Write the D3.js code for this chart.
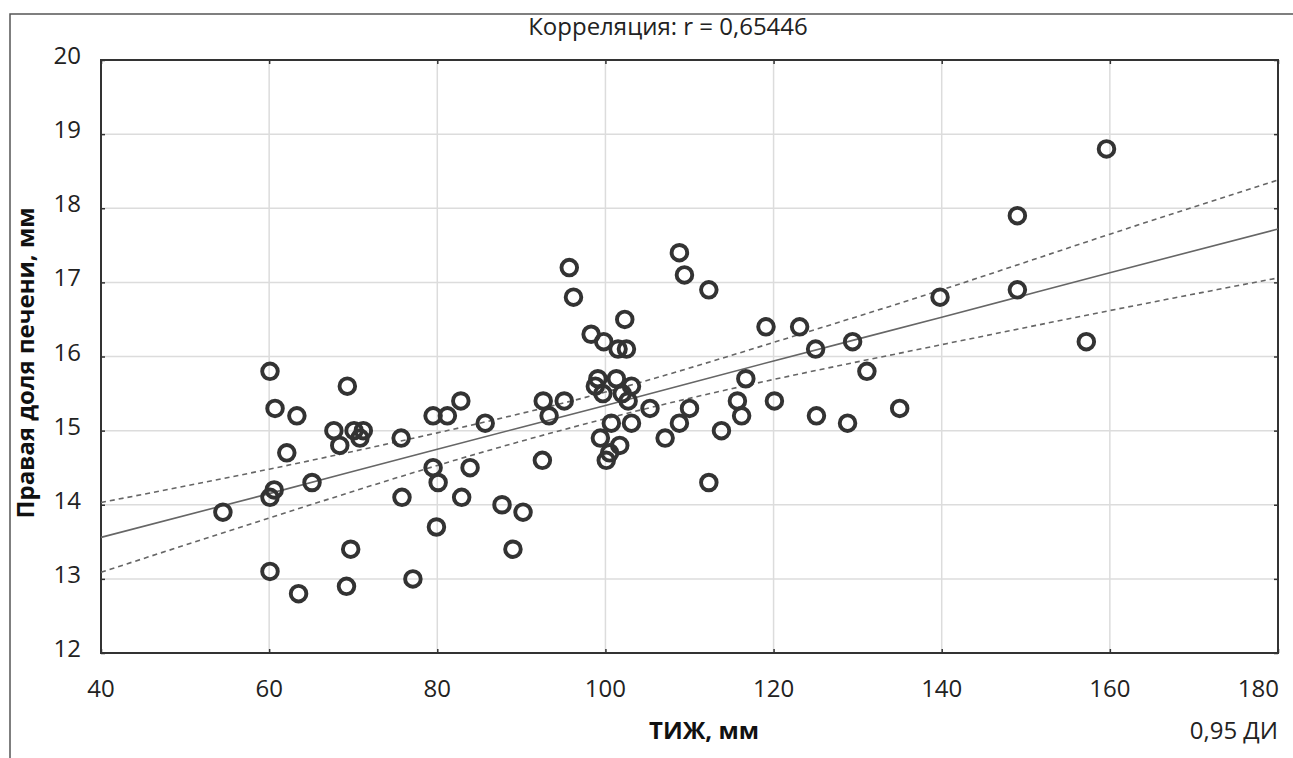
<!DOCTYPE html>
<html>
<head>
<meta charset="utf-8">
<script src="https://cdn.jsdelivr.net/npm/d3@7/dist/d3.min.js"></script>
<style>
  html, body { margin: 0; padding: 0; background: #fff; }
  svg { display: block; font-family: "Open Sans", "Noto Sans", sans-serif; }
</style>
</head>
<body>
<svg id="chart" width="1293" height="758"></svg>
<script>
// ---- Data ----
const tizh = [
  54.5, 60.1, 60.7, 63.3, 62.1, 60.6, 60.1, 65.1, 60.1, 63.5,
  69.3, 67.7, 68.4, 70.1, 71.2, 70.8, 69.2, 69.7, 75.7, 75.8,
  77.1, 79.5, 81.2, 82.8, 85.7, 79.5, 80.1, 83.9, 82.9, 79.9,
  87.7, 90.2, 89.0, 92.6, 95.1, 93.3, 92.5, 95.7, 96.2, 98.3,
  99.8, 101.5, 102.5, 102.3, 99.1, 101.3, 103.1, 98.8, 99.7, 102.0,
  102.7, 105.3, 100.7, 103.1, 99.4, 101.7, 100.5, 100.1, 107.1, 108.8,
  110.0, 108.8, 109.4, 112.3, 113.8, 112.3, 116.7, 115.7, 116.2, 119.1,
  123.1, 125.0, 129.4, 131.1, 120.1, 125.1, 128.8, 135.0, 139.8, 149.0,
  149.0, 157.2, 159.6
];
const liver = [
  13.9, 15.8, 15.3, 15.2, 14.7, 14.2, 14.1, 14.3, 13.1, 12.8,
  15.6, 15.0, 14.8, 15.0, 15.0, 14.9, 12.9, 13.4, 14.9, 14.1,
  13.0, 15.2, 15.2, 15.4, 15.1, 14.5, 14.3, 14.5, 14.1, 13.7,
  14.0, 13.9, 13.4, 15.4, 15.4, 15.2, 14.6, 17.2, 16.8, 16.3,
  16.2, 16.1, 16.1, 16.5, 15.7, 15.7, 15.6, 15.6, 15.5, 15.5,
  15.4, 15.3, 15.1, 15.1, 14.9, 14.8, 14.7, 14.6, 14.9, 15.1,
  15.3, 17.4, 17.1, 16.9, 15.0, 14.3, 15.7, 15.4, 15.2, 16.4,
  16.4, 16.1, 16.2, 15.8, 15.4, 15.2, 15.1, 15.3, 16.8, 17.9,
  16.9, 16.2, 18.8
];

// regression line and 0.95 confidence band
const fitX    = [40, 60, 80, 100, 120, 140, 160, 180];
const fitY    = [13.56, 14.15, 14.75, 15.34, 15.94, 16.53, 17.13, 17.72];
const ciUpper = [14.03, 14.48, 14.97, 15.52, 16.19, 16.90, 17.65, 18.38];
const ciLower = [13.09, 13.82, 14.53, 15.16, 15.69, 16.16, 16.62, 17.06];

const xTicks = [40, 60, 80, 100, 120, 140, 160, 180];
const yTicks = [12, 13, 14, 15, 16, 17, 18, 19, 20];

const titleText = "Корреляция: r = 0,65446";
const xTitle = "ТИЖ, мм";
const yTitle = "Правая доля печени, мм";
const ciLabel = "0,95 ДИ";

// ---- Layout ----
const svg = d3.select("#chart");
const pL = 101, pT = 60, pR = 1278, pB = 653;

const x = d3.scaleLinear().domain([40, 180]).range([pL, pR]);
const y = d3.scaleLinear().domain([12, 20]).range([pB, pT]);

// outer frame (top and left lines)
svg.append("path")
  .attr("d", `M10,758 L10,14 L1293,14`)
  .attr("fill", "none").attr("stroke", "#555").attr("stroke-width", 1.5);

// grid
const grid = svg.append("g");
grid.selectAll("line.gx").data(xTicks.slice(1, -1)).join("line")
  .attr("x1", d => x(d)).attr("x2", d => x(d))
  .attr("y1", pT).attr("y2", pB)
  .attr("stroke", "#dcdcdc").attr("stroke-width", 1.5);
grid.selectAll("line.gy").data(yTicks.slice(1, -1)).join("line")
  .attr("y1", d => y(d)).attr("y2", d => y(d))
  .attr("x1", pL).attr("x2", pR)
  .attr("stroke", "#dcdcdc").attr("stroke-width", 1.5);

// axes with inward ticks
const axStyle = g => {
  g.select(".domain").remove();
  g.selectAll(".tick line").attr("stroke", "#333").attr("stroke-width", 1.5);
  g.selectAll("text").remove();
};
svg.append("g").attr("transform", `translate(0,${pB})`)
  .call(d3.axisTop(x).tickValues(xTicks).tickSize(4)).call(axStyle);
svg.append("g").attr("transform", `translate(0,${pT})`)
  .call(d3.axisBottom(x).tickValues(xTicks).tickSize(4)).call(axStyle);
svg.append("g").attr("transform", `translate(${pL},0)`)
  .call(d3.axisRight(y).tickValues(yTicks).tickSize(4)).call(axStyle);
svg.append("g").attr("transform", `translate(${pR},0)`)
  .call(d3.axisLeft(y).tickValues(yTicks).tickSize(4)).call(axStyle);

// plot box
svg.append("rect")
  .attr("x", pL).attr("y", pT)
  .attr("width", pR - pL).attr("height", pB - pT)
  .attr("fill", "none").attr("stroke", "#333").attr("stroke-width", 2);

// tick labels
svg.append("g").selectAll("text").data(xTicks).join("text")
  .attr("x", (d, i) => i === xTicks.length - 1 ? pR + 1 : x(d)).attr("y", 697)
  .attr("text-anchor", (d, i) => i === xTicks.length - 1 ? "end" : "middle")
  .attr("font-size", 24).attr("fill", "#222")
  .text(d => d);
svg.append("g").selectAll("text").data(yTicks).join("text")
  .attr("x", 81).attr("y", d => y(d) + 4)
  .attr("text-anchor", "end")
  .attr("font-size", 24).attr("fill", "#222")
  .text(d => d);

// regression line and confidence band
const line = d3.line().x(d => x(d[0])).y(d => y(d[1])).curve(d3.curveNatural);
svg.append("path")
  .attr("d", line(fitX.map((v, i) => [v, fitY[i]])))
  .attr("fill", "none").attr("stroke", "#666").attr("stroke-width", 1.6);
[ciUpper, ciLower].forEach(arr => {
  svg.append("path")
    .attr("d", line(fitX.map((v, i) => [v, arr[i]])))
    .attr("fill", "none").attr("stroke", "#666").attr("stroke-width", 1.6)
    .attr("stroke-dasharray", "5,4");
});

// points
svg.append("g").selectAll("circle").data(tizh.map((v, i) => [v, liver[i]])).join("circle")
  .attr("cx", d => x(d[0])).attr("cy", d => y(d[1]))
  .attr("r", 7.8)
  .attr("fill", "none").attr("stroke", "#333").attr("stroke-width", 3.9);

// titles
svg.append("text")
  .attr("x", 668).attr("y", 35)
  .attr("text-anchor", "middle")
  .attr("font-size", 24).attr("fill", "#222")
  .text(titleText);
svg.append("text")
  .attr("x", 704).attr("y", 739)
  .attr("text-anchor", "middle")
  .attr("font-size", 24).attr("font-weight", "bold").attr("fill", "#111")
  .text(xTitle);
svg.append("text")
  .attr("x", 1278).attr("y", 739)
  .attr("text-anchor", "end")
  .attr("font-size", 24).attr("fill", "#222")
  .text(ciLabel);
svg.append("text")
  .attr("transform", `translate(34,363) rotate(-90)`)
  .attr("text-anchor", "middle")
  .attr("font-size", 24).attr("font-weight", "bold").attr("fill", "#111")
  .text(yTitle);
</script>
</body>
</html>
